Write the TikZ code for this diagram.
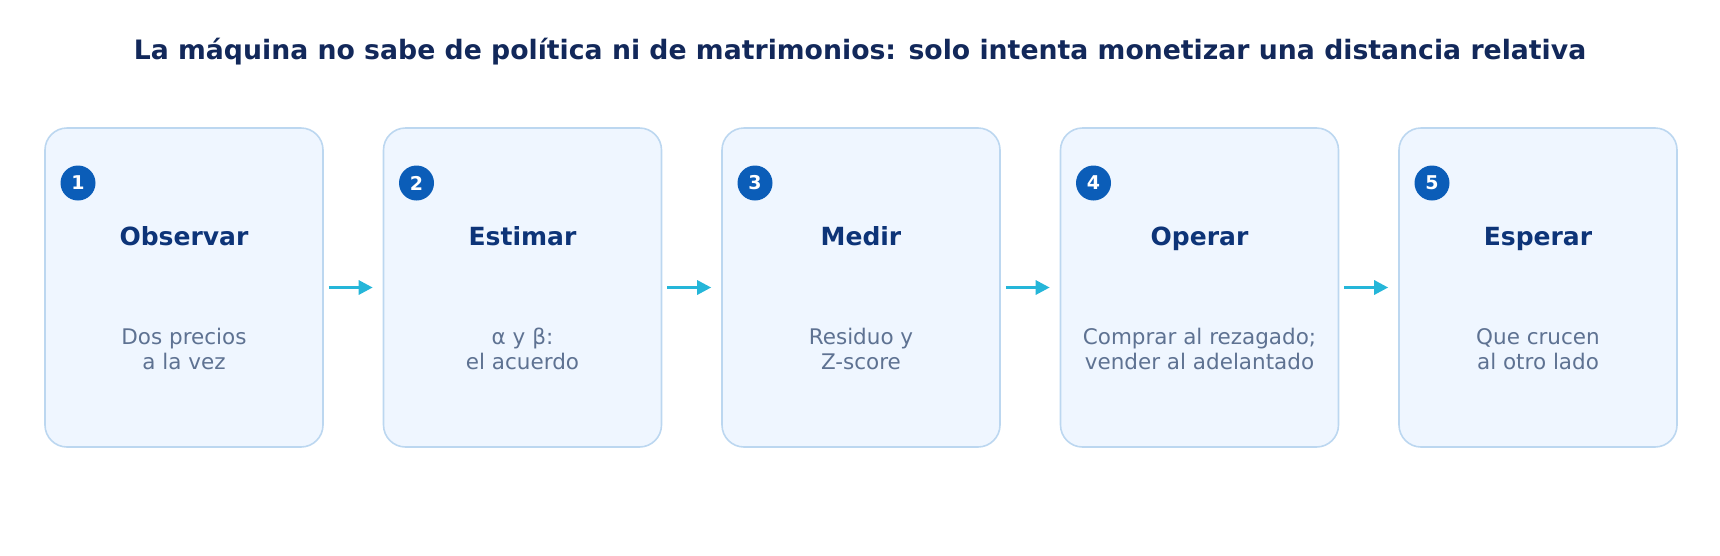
\documentclass[tikz,border=0pt]{standalone}
\usepackage{fontspec}
\setmainfont{DejaVu Sans}
\usetikzlibrary{arrows.meta}
\definecolor{boxfill}{HTML}{EFF6FF}
\definecolor{boxline}{HTML}{BCD7F0}
\definecolor{badge}{HTML}{0B5DB8}
\definecolor{ttl}{HTML}{12285A}
\definecolor{head}{HTML}{0D3478}
\definecolor{body}{HTML}{5E7292}
\definecolor{arr}{HTML}{25B6D9}
\begin{document}
\begin{tikzpicture}[x=1pt,y=-1pt,
 card/.style={draw=boxline,line width=1.6pt,fill=boxfill,rounded corners=22pt,minimum width=278pt,minimum height=319pt,inner sep=0pt},
 num/.style={circle,fill=badge,minimum size=35pt,inner sep=0pt,text=white,font=\fontsize{19}{20}\selectfont\bfseries},
 head/.style={anchor=base,text=head,font=\fontsize{25}{28}\selectfont\bfseries},
 body/.style={text=body,align=center,font=\fontsize{21.5}{25}\selectfont},
 conn/.style={-{Triangle[length=14pt,width=14pt]},arr,line width=3pt}]
\useasboundingbox (0,0) rectangle (1720,555);
\node[text=ttl,font=\fontsize{26.7}{30}\selectfont\bfseries] (title) at (860,52) {La máquina no sabe de política ni de matrimonios: solo intenta monetizar una distancia relativa};
\foreach \i/\h/\b in {1/Observar/{Dos precios\\a la vez},2/Estimar/{α y β:\\el acuerdo},3/Medir/{Residuo y\\Z-score},4/Operar/{Comprar al rezagado;\\vender al adelantado},5/Esperar/{Que crucen\\al otro lado}}{
 \pgfmathsetmacro\cx{184+338.5*(\i-1)}
 \node[card] (c\i) at (\cx,287.5) {};
 \node[num] (n\i) at (\cx-106,183) {\i};
 \node[head] (h\i) at (\cx,245) {\h};
 \node[body] (b\i) at (\cx,349) {\b};
}
\foreach \a/\b in {1/2,2/3,3/4,4/5}{
 \draw[conn] ([xshift=5pt]c\a.east) -- ([xshift=-10pt]c\b.west);
}
\end{tikzpicture}
\end{document}
